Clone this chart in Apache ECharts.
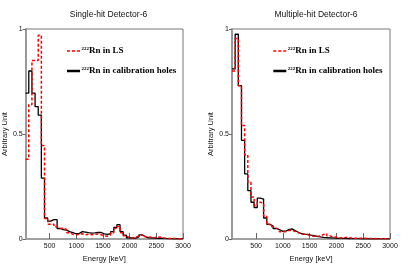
<!DOCTYPE html>
<html><head><meta charset="utf-8">
<script src="https://cdn.jsdelivr.net/npm/echarts@6/dist/echarts.min.js"></script>
<style>html,body{margin:0;padding:0;background:#fff}#c{width:415px;height:269px}</style>
</head><body><div id="c"></div>
<script>
const titles = ['Single-hit Detector-6', 'Multiple-hit Detector-6'];
const isotope = '222';
const legendLabels = ['Rn in LS', 'Rn in calibration holes'];
const xTicks = [500, 1000, 1500, 2000, 2500, 3000];
const yTicks = [0, 0.5, 1];
const energyMin = 50, energyMax = 3000, binCount = 50;

const singleLS = [0.38,0.64,0.85,0.85,0.97,0.445,0.098,0.07,0.07,0.058,
 0.05,0.052,0.045,0.03,0.022,0.02,0.022,0.025,0.02,0.023,
 0.02,0.022,0.024,0.02,0.015,0.013,0.02,0.03,0.05,0.06,
 0.03,0.015,0.006,0.005,0.008,0.015,0.022,0.012,0.008,0.01,
 0.006,0.01,0.008,0.005,0.003,0.002,0.002,0.002,0.001,0.001];
const singleHoles = [0.695,0.80,0.695,0.63,0.59,0.29,0.10,0.085,0.092,0.092,
 0.05,0.045,0.042,0.035,0.03,0.025,0.026,0.035,0.033,0.03,
 0.028,0.029,0.032,0.031,0.024,0.022,0.025,0.035,0.055,0.068,
 0.035,0.018,0.006,0.004,0.004,0.01,0.02,0.012,0.005,0.005,
 0.004,0.003,0.004,0.003,0.002,0.002,0.001,0.001,0.001,0.001];
const multiLS = [0.80,0.955,0.73,0.54,0.40,0.27,0.20,0.16,0.175,0.17,
 0.11,0.07,0.06,0.052,0.045,0.035,0.035,0.04,0.042,0.036,
 0.03,0.025,0.022,0.02,0.015,0.013,0.012,0.015,0.022,0.025,
 0.015,0.01,0.008,0.005,0.006,0.007,0.008,0.004,0.003,0.003,
 0.003,0.003,0.002,0.002,0.002,0.001,0.001,0.001,0.001,0.001];
const multiHoles = [0.81,0.975,0.73,0.47,0.31,0.23,0.175,0.15,0.195,0.19,
 0.10,0.07,0.062,0.05,0.045,0.037,0.037,0.045,0.048,0.04,
 0.032,0.025,0.023,0.022,0.018,0.016,0.013,0.01,0.008,0.007,
 0.005,0.005,0.004,0.003,0.003,0.003,0.002,0.002,0.002,0.002,
 0.001,0.001,0.001,0.001,0.001,0.001,0.001,0.001,0.001,0.001];

const binWidth = (energyMax - energyMin) / binCount;
function steps(vals) {
  const pts = vals.map((v, i) => [energyMin + i * binWidth, v]);
  pts.push([energyMax, vals[vals.length - 1]]);
  return pts;
}

const SANS = 'Liberation Sans, Arial, sans-serif';
const SERIF = 'Liberation Serif, Times New Roman, serif';

const grids = [
  {left: 24, top: 29, width: 159, height: 210},
  {left: 232, top: 29, width: 158, height: 210}
];

function xAx(g) {
  return {
    type: 'value', gridIndex: g, min: energyMin, max: energyMax,
    axisLine: {show: true, lineStyle: {color: '#999', width: 1.5}},
    axisTick: {show: true, inside: true, length: 6, customValues: xTicks, lineStyle: {color: '#666', width: 1}},
    axisLabel: {customValues: xTicks, fontSize: 7, color: '#111', margin: 4, fontFamily: SANS,
      formatter: v => String(v)},
    splitLine: {show: false},
    name: 'Energy [keV]', nameLocation: 'middle', nameGap: 12,
    nameTextStyle: {fontSize: 7.5, color: '#111', fontFamily: SANS}
  };
}
function yAx(g) {
  return {
    type: 'value', gridIndex: g, min: 0, max: 1, interval: 0.5,
    axisLine: {show: true, lineStyle: {color: '#999', width: 2}},
    axisTick: {show: true, inside: false, length: 3, lineStyle: {color: '#666'}},
    axisLabel: {fontSize: 7, color: '#111', margin: 3, fontFamily: SANS, formatter: v => String(v)},
    splitLine: {show: false},
    name: 'Arbitrary Unit', nameLocation: 'middle', nameRotate: 90, nameGap: 16,
    nameTextStyle: {fontSize: 7.5, color: '#222', fontFamily: SANS}
  };
}

const redStyle = {color: '#ff0000', width: 1.5, type: [3, 2]};
const blackStyle = {color: '#000', width: 1.3};

const series = [];
[[singleHoles, singleLS], [multiHoles, multiLS]].forEach(([holes, ls], g) => {
  series.push({type: 'line', xAxisIndex: g, yAxisIndex: g, data: steps(holes), step: 'end',
    symbol: 'none', lineStyle: blackStyle, silent: true, z: 2});
  series.push({type: 'line', xAxisIndex: g, yAxisIndex: g, data: steps(ls), step: 'end',
    symbol: 'none', lineStyle: redStyle, silent: true, z: 3});
});

const graphic = [];
const legendX = [67, 273.3];
legendX.forEach(x0 => {
  [[51, redStyle, 1.5, legendLabels[0]], [71, blackStyle, 2.5, legendLabels[1]]].forEach(([y, st, w, label]) => {
    graphic.push({type: 'line', shape: {x1: x0, y1: y, x2: x0 + 13, y2: y},
      style: {stroke: st.color, lineWidth: w, lineDash: Array.isArray(st.type) ? st.type : null}});
    graphic.push({type: 'text', x: x0 + 14.5, y: y,
      style: {text: '{s|' + isotope + '}{b|' + label + '}', verticalAlign: 'middle',
        rich: {s: {fontSize: 5, fontFamily: SERIF, fontWeight: 'bold', fill: '#000', verticalAlign: 'top'},
               b: {fontSize: 9, fontFamily: SERIF, fontWeight: 'bold', fill: '#000'}}}});
  });
});

const chart = echarts.init(document.getElementById('c'), null, {renderer: 'canvas'});
chart.setOption({
  animation: false,
  backgroundColor: '#fff',
  title: [
    {text: titles[0], left: 103.5, top: 5, textAlign: 'center',
     textStyle: {fontSize: 8.5, fontWeight: 'normal', color: '#111', fontFamily: SANS}},
    {text: titles[1], left: 311, top: 5, textAlign: 'center',
     textStyle: {fontSize: 8.5, fontWeight: 'normal', color: '#111', fontFamily: SANS}}
  ],
  grid: grids.map(g => Object.assign({show: true, borderColor: '#777', borderWidth: 1}, g)),
  xAxis: [xAx(0), xAx(1)],
  yAxis: [yAx(0), yAx(1)],
  series: series,
  graphic: graphic
});
</script>
</body></html>
